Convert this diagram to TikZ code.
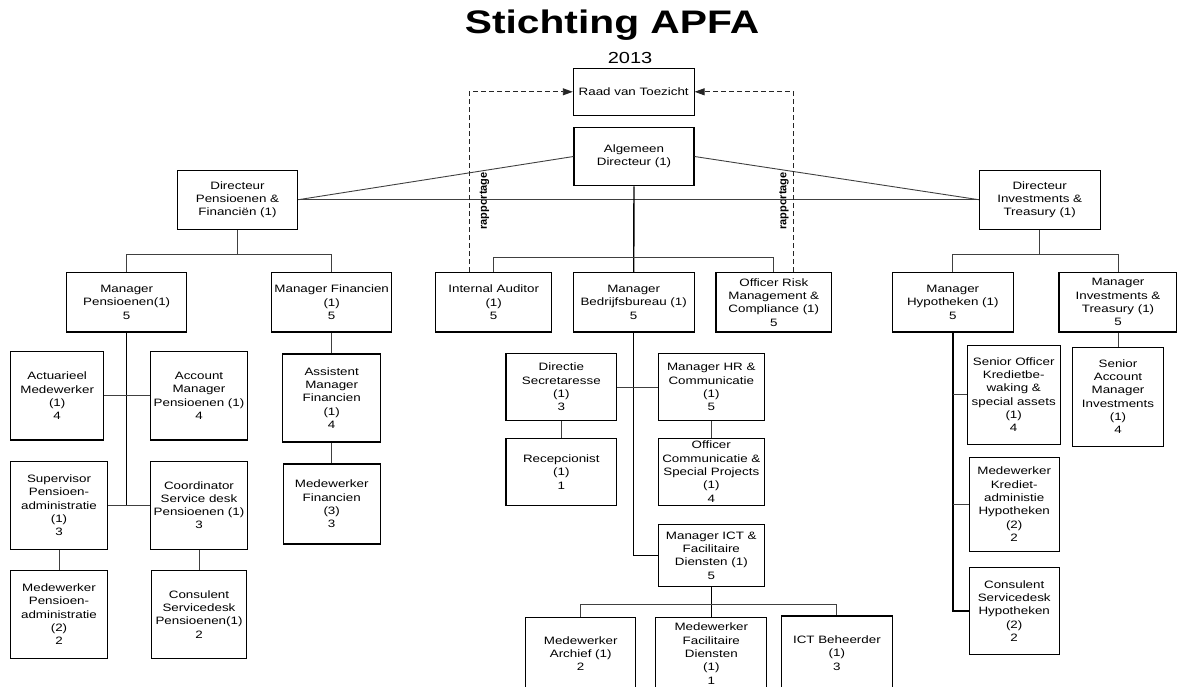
\documentclass[tikz,border=0pt]{standalone}
\usepackage{fontspec}
\setmainfont[FakeStretch=1.25]{Liberation Sans}
\newfontfamily\rappfont{Liberation Sans}
\usepackage{tikz}
\usetikzlibrary{arrows.meta}

\begin{document}
\begin{tikzpicture}[x=1pt,y=-1pt,
	box/.style={draw=black,line width=1.1pt,align=center,inner sep=0pt,font=\fontsize{10.7}{13.3}\selectfont},
	link/.style={draw=black!75,line width=0.9pt},
	trunk/.style={draw=black,line width=1.4pt},
	rapport/.style={draw=black!85,line width=0.9pt,dash pattern=on 5pt off 3pt,-{Triangle[length=10pt,width=7pt]}},
	rapptext/.style={rotate=90,font=\rappfont\bfseries\fontsize{11}{12}\selectfont}]
	\clip (0,0) rectangle (1177,686);

	\node[font=\bfseries\fontsize{32.6}{36}\selectfont,anchor=base] (titel) at (612,33) {Stichting APFA};
	\node[font=\fontsize{16}{18}\selectfont,anchor=base] (jaar) at (630,63) {2013};

	\node[box,minimum width=120.7,minimum height=47] (raad) at (633.7,91.8) {Raad van Toezicht};
	\node[box,minimum width=120,minimum height=58.4] (alg) at (634,156.5) {Algemeen\\Directeur (1)};
	\node[box,minimum width=120.4,minimum height=59.3] (dirpens) at (237.5,199.7) {Directeur\\Pensioenen \&\\Financiën (1)};
	\node[box,minimum width=120.7,minimum height=59.3] (dirinv) at (1039.7,199.7) {Directeur\\Investments \&\\Treasury (1)};

	\node[box,minimum width=120,minimum height=59.3] (mgrpens) at (126.7,302.3) {Manager\\Pensioenen(1)\\5};
	\node[box,minimum width=120,minimum height=59.3] (mgrfin) at (331.7,302.3) {Manager Financien\\(1)\\5};
	\node[box,minimum width=116,minimum height=59.3] (audit) at (493.7,302.3) {Internal Auditor\\(1)\\5};
	\node[box,minimum width=120.7,minimum height=59.3] (bedrijf) at (633.7,302.3) {Manager\\Bedrijfsbureau (1)\\5};
	\node[box,minimum width=115.7,minimum height=59.3] (risk) at (773.8,302.3) {Officer Risk\\Management \&\\Compliance (1)\\5};
	\node[box,minimum width=121,minimum height=59.3] (hypo) at (952.8,302.3) {Manager\\Hypotheken (1)\\5};
	\node[box,minimum width=118,minimum height=59.3] (invm) at (1118,302.3) {Manager\\Investments \&\\Treasury (1)\\5};

	\node[box,minimum width=93,minimum height=88.3] (actu) at (57.2,395.8) {Actuarieel\\Medewerker\\(1)\\4};
	\node[box,minimum width=96.6,minimum height=88.3] (acct) at (199,395.8) {Account\\Manager\\Pensioenen (1)\\4};
	\node[box,minimum width=96.6,minimum height=88.3] (superv) at (59,505.2) {Supervisor\\Pensioen-\\administratie\\(1)\\3};
	\node[box,minimum width=96.6,minimum height=88.3] (coord) at (199,505.2) {Coordinator\\Service desk\\Pensioenen (1)\\3};
	\node[box,minimum width=96.6,minimum height=88.3] (medpens) at (59,614.2) {Medewerker\\Pensioen-\\administratie\\(2)\\2};
	\node[box,minimum width=95,minimum height=88.3] (consp) at (199,614.2) {Consulent\\Servicedesk\\Pensioenen(1)\\2};
	\node[box,minimum width=98.3,minimum height=88] (assist) at (331.7,398) {Assistent\\Manager\\Financien\\(1)\\4};
	\node[box,minimum width=96.7,minimum height=80] (medfin) at (331.7,504) {Medewerker\\Financien\\(3)\\3};

	\node[box,minimum width=110.7,minimum height=67.4] (secr) at (561.3,387) {Directie\\Secretaresse\\(1)\\3};
	\node[box,minimum width=106,minimum height=67.4] (hr) at (711.3,387) {Manager HR \&\\Communicatie\\(1)\\5};
	\node[box,minimum width=110.7,minimum height=67.4] (recep) at (561.3,472) {Recepcionist\\(1)\\1};
	\node[box,minimum width=106,minimum height=66.7] (offcom) at (711.3,471.7) {Officer\\Communicatie \&\\Special Projects\\(1)\\4};
	\node[box,minimum width=106,minimum height=62.4] (ict) at (711.3,555.5) {Manager ICT \&\\Facilitaire\\Diensten (1)\\5};
	\node[box,minimum width=110,minimum height=72.7] (archief) at (580.7,653.6) {Medewerker\\Archief (1)\\2};
	\node[box,minimum width=111,minimum height=72.7] (facil) at (711.3,653.6) {Medewerker\\Facilitaire\\Diensten\\(1)\\1};
	\node[box,minimum width=110.8,minimum height=74] (ictb) at (836.9,653) {ICT Beheerder\\(1)\\3};

	\node[box,minimum width=92.7,minimum height=99.3] (senoff) at (1013.7,394.7) {Senior Officer\\Kredietbe-\\waking \&\\special assets\\(1)\\4};
	\node[box,minimum width=89.7,minimum height=93.7] (medkred) at (1014.2,504.2) {Medewerker\\Krediet-\\administie\\Hypotheken\\(2)\\2};
	\node[box,minimum width=89.7,minimum height=86.6] (conshyp) at (1014.2,611) {Consulent\\Servicedesk\\Hypotheken\\(2)\\2};
	\node[box,minimum width=91.7,minimum height=98.7] (senacc) at (1118,396.7) {Senior\\Account\\Manager\\Investments\\(1)\\4};

	\node[rapptext] (rappl) at (484.5,201) {rapportage};
	\node[rapptext] (rappr) at (784,201) {rapportage};

	\draw[link] (alg.west) -- (dirpens.east);
	\draw[link] (alg.east) -- (dirinv.west);
	\draw[link] (dirpens.east) -- (dirinv.west);
	\draw[trunk] (alg.south) -- (bedrijf.north);
	\draw[link] (audit.north) -- ++(0,-14.4) -| (risk.north);
	\draw[rapport] ([xshift=-24.4pt]audit.north) |- (raad.west);
	\draw[rapport] ([xshift=19.5pt]risk.north) |- (raad.east);

	\draw[link] (dirpens.south) -- ++(0,24.7) -| (mgrpens.north);
	\draw[link] (dirpens.south) ++(0,24.7) -| (mgrfin.north);
	\draw[link] (dirinv.south) -- ++(0,24.7) -| (hypo.north);
	\draw[link] (dirinv.south) ++(0,24.7) -| (invm.north);

	\draw[trunk] (mgrpens.south) |- (superv.east);
	\draw[link] (actu.east) -- (acct.west);
	\draw[link] (superv.east) -- (coord.west);
	\draw[link] (superv.south) -- (medpens.north);
	\draw[link] (coord.south) -- (consp.north);
	\draw[link] (mgrfin.south) -- (assist.north);
	\draw[link] (assist.south) -- (medfin.north);

	\draw[trunk] (bedrijf.south) |- (ict.west);
	\draw[link] (secr.east) -- (hr.west);
	\draw[link] (secr.south) -- (recep.north);
	\draw[link] (hr.south) -- (offcom.north);
	\draw[trunk] (ict.south) -- (facil.north);
	\draw[link] (archief.north) -- ++(0,-12.3) -| (ictb.north);

	\draw[trunk] (hypo.south) |- (conshyp.west);
	\draw[link] (hypo.south |- senoff.west) -- (senoff.west);
	\draw[link] (hypo.south |- medkred.west) -- (medkred.west);
	\draw[link] (invm.south) -- (senacc.north);
\end{tikzpicture}
\end{document}
